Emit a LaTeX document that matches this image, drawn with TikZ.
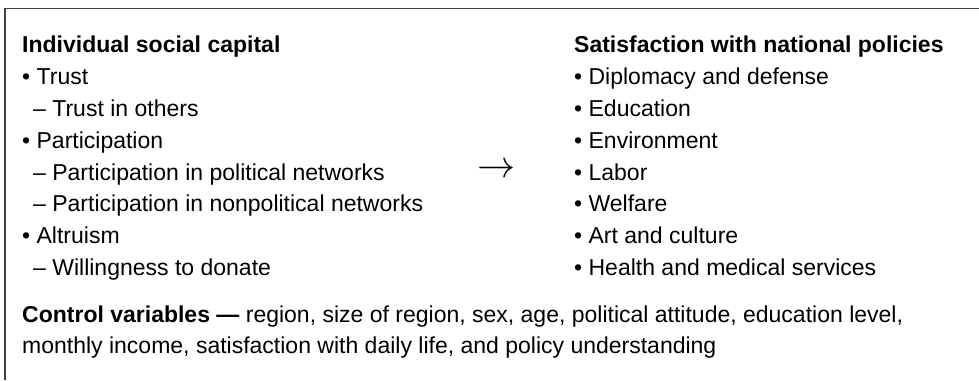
\documentclass[tikz,border=0pt]{standalone}
\usepackage{fontspec}
\setmainfont{Liberation Sans}
\begin{document}
\begin{tikzpicture}[x=1pt,y=1pt,
  ln/.style={anchor=base west, inner sep=0pt, font=\fontsize{23}{27}\selectfont},
  hd/.style={ln, font=\fontsize{23}{27}\selectfont\bfseries},
  frame/.style={draw=black!75, line width=1.5pt}]
\useasboundingbox (0,0) rectangle (979,-380);
\coordinate (tl) at (5,-8.5);
\coordinate (tr) at (979,-8.5);
\coordinate (bl) at (5,-380);
\draw[frame] (bl) -- (tl) -- (tr);
% left column
\node[hd] (lh) at (22,-52) {Individual social capital};
\node[ln] (l1) at (22,-84) {• Trust};
\node[ln] (l2) at (33,-116) {– Trust in others};
\node[ln] (l3) at (22,-148) {• Participation};
\node[ln] (l4) at (33,-180) {– Participation in political networks};
\node[ln] (l5) at (33,-211.5) {– Participation in nonpolitical networks};
\node[ln] (l6) at (22,-243) {• Altruism};
\node[ln] (l7) at (33,-275) {– Willingness to donate};
% arrow
\node[inner sep=0pt] (arr) at (496,-171) {\scalebox{3.8}{$\rightarrow$}};
% right column
\node[hd] (rh) at (574,-52) {Satisfaction with national policies};
\node[ln] (r1) at (574,-84) {• Diplomacy and defense};
\node[ln] (r2) at (574,-116) {• Education};
\node[ln] (r3) at (574,-148) {• Environment};
\node[ln] (r4) at (574,-180) {• Labor};
\node[ln] (r5) at (574,-211.5) {• Welfare};
\node[ln] (r6) at (574,-243) {• Art and culture};
\node[ln] (r7) at (574,-275) {• Health and medical services};
% control variables
\node[ln] (c1) at (22,-322) {\textbf{Control variables —} region, size of region, sex, age, political attitude, education level,};
\node[ln] (c2) at (22,-353) {monthly income, satisfaction with daily life, and policy understanding};
\end{tikzpicture}
\end{document}
